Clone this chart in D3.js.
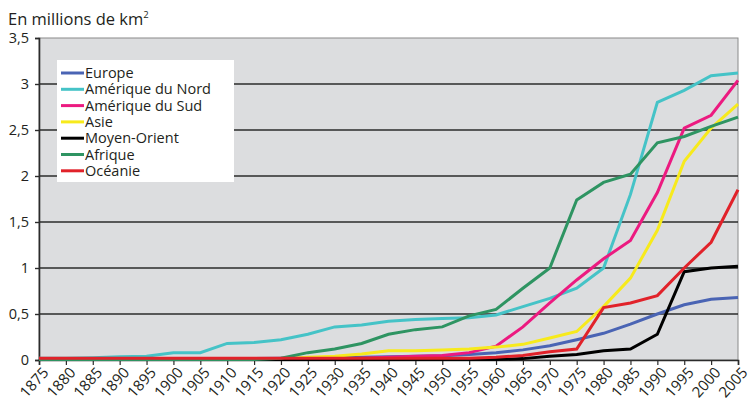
<!DOCTYPE html>
<html>
<head>
<meta charset="utf-8">
<script src="https://cdn.jsdelivr.net/npm/d3@7"></script>
<style>
  body { margin: 0; background: #fff; }
  text { font-family: "Open Sans", "DejaVu Sans", sans-serif; fill: #231f20; }
</style>
</head>
<body>
<script>
// years on x axis
var years = [1875, 1880, 1885, 1890, 1895, 1900, 1905, 1910, 1915, 1920, 1925, 1930, 1935,
             1940, 1945, 1950, 1955, 1960, 1965, 1970, 1975, 1980, 1985, 1990, 1995, 2000, 2005];

var seriesNames = ["Europe", "Amérique du Nord", "Amérique du Sud", "Asie", "Moyen-Orient", "Afrique", "Océanie"];
var seriesColors = ["#4a64b4", "#45c3c7", "#ec1a80", "#f7ea1c", "#000000", "#2e9462", "#e1222a"];

// values in millions of km2
var europe = [0.01, 0.01, 0.01, 0.01, 0.01, 0.01, 0.01, 0.015, 0.015, 0.02, 0.02, 0.025, 0.03,
              0.035, 0.04, 0.045, 0.06, 0.08, 0.11, 0.155, 0.22, 0.29, 0.39, 0.5, 0.6, 0.66, 0.68];
var ameriqueNord = [0.02, 0.02, 0.025, 0.035, 0.04, 0.08, 0.08, 0.18, 0.19, 0.22, 0.28, 0.36, 0.38,
                    0.42, 0.44, 0.45, 0.46, 0.49, 0.58, 0.67, 0.78, 1.0, 1.8, 2.8, 2.93, 3.09, 3.12];
var ameriqueSud = [0.01, 0.01, 0.01, 0.01, 0.01, 0.01, 0.01, 0.01, 0.01, 0.01, 0.01, 0.01, 0.02,
                   0.03, 0.04, 0.05, 0.08, 0.15, 0.36, 0.62, 0.87, 1.1, 1.3, 1.82, 2.52, 2.66, 3.04];
var asie = [0.01, 0.01, 0.01, 0.01, 0.01, 0.01, 0.01, 0.01, 0.01, 0.01, 0.03, 0.04, 0.065,
            0.1, 0.1, 0.11, 0.12, 0.14, 0.17, 0.24, 0.31, 0.58, 0.89, 1.41, 2.16, 2.52, 2.78];
var moyenOrient = [0.005, 0.005, 0.005, 0.005, 0.005, 0.005, 0.005, 0.005, 0.005, 0.005, 0.005, 0.005, 0.005,
                   0.005, 0.005, 0.005, 0.005, 0.005, 0.015, 0.04, 0.06, 0.1, 0.12, 0.28, 0.96, 1.0, 1.02];
var afrique = [0.005, 0.005, 0.005, 0.005, 0.005, 0.005, 0.005, 0.005, 0.005, 0.02, 0.08, 0.12, 0.18,
               0.28, 0.33, 0.36, 0.48, 0.55, 0.78, 1.0, 1.74, 1.93, 2.02, 2.36, 2.43, 2.54, 2.64];
var oceanie = [0.02, 0.02, 0.02, 0.02, 0.02, 0.02, 0.02, 0.02, 0.02, 0.02, 0.02, 0.02, 0.02,
               0.02, 0.02, 0.02, 0.02, 0.03, 0.05, 0.09, 0.12, 0.57, 0.62, 0.70, 1.0, 1.28, 1.85];

var yTicks = [0, 0.5, 1, 1.5, 2, 2.5, 3, 3.5];

var allSeries = [europe, ameriqueNord, ameriqueSud, asie, moyenOrient, afrique, oceanie];

var width = 749, height = 400;
var margin = {top: 38, right: 11, bottom: 40, left: 39};
var innerWidth = width - margin.left - margin.right,
    innerHeight = height - margin.top - margin.bottom;

var svg = d3.select("body").append("svg")
    .attr("width", width)
    .attr("height", height);

// unit title
var title = svg.append("text")
    .attr("x", 8)
    .attr("y", 25)
    .attr("font-size", 16.5);
title.append("tspan").text("En millions de km");
title.append("tspan").text("2").attr("font-size", 9.5).attr("dy", -7);

var plot = svg.append("g")
    .attr("transform", "translate(" + margin.left + "," + margin.top + ")");

var xScale = d3.scaleLinear().domain([1875, 2005]).range([0, innerWidth]);
var yScale = d3.scaleLinear().domain([0, 3.5]).range([innerHeight, 0]);

// background
plot.append("rect")
    .attr("width", innerWidth)
    .attr("height", innerHeight)
    .attr("fill", "#dcdddf")
    .attr("stroke", "#8a8a8a")
    .attr("stroke-width", 1);

// gridlines
plot.append("g")
    .selectAll("line")
    .data(yTicks.filter(function(d) { return d > 0 && d < 3.5; }))
    .join("line")
    .attr("x1", 0)
    .attr("x2", innerWidth)
    .attr("y1", function(d) { return yScale(d); })
    .attr("y2", function(d) { return yScale(d); })
    .attr("stroke", "#2b2b2b")
    .attr("stroke-width", 1.4);

var fr = d3.formatLocale({decimal: ",", thousands: " ", grouping: [3], currency: ["", " €"]});

// y axis
var yAxis = d3.axisLeft(yScale).tickValues(yTicks).tickSize(4).tickPadding(6).tickFormat(fr.format("~g"));
var yg = plot.append("g").call(yAxis);
yg.select(".domain").attr("stroke", "#2b2b2b").attr("stroke-width", 1.6);
yg.selectAll(".tick line").attr("stroke", "#2b2b2b").attr("stroke-width", 1.4);
yg.selectAll(".tick text").attr("font-size", 14.5).attr("font-family", "Open Sans, sans-serif").attr("fill", "#231f20");

// x axis
var xAxis = d3.axisBottom(xScale).tickValues(years).tickSize(5).tickFormat(d3.format("d"));
var xg = plot.append("g")
    .attr("transform", "translate(0," + innerHeight + ")")
    .call(xAxis);
xg.select(".domain").attr("stroke", "#2b2b2b").attr("stroke-width", 1.6);
xg.selectAll(".tick line").attr("stroke", "#2b2b2b").attr("stroke-width", 1.2);
xg.selectAll(".tick text")
    .attr("font-size", 15)
    .attr("font-family", "Open Sans, sans-serif")
    .attr("fill", "#231f20")
    .attr("text-anchor", "end")
    .attr("x", 0)
    .attr("y", 0)
    .attr("dy", 0)
    .attr("transform", "translate(10,13) rotate(-48)");

// lines
var line = d3.line()
    .x(function(d, i) { return xScale(years[i]); })
    .y(function(d) { return yScale(d); });

var lines = plot.append("g");
allSeries.forEach(function(values, i) {
    lines.append("path")
        .datum(values)
        .attr("fill", "none")
        .attr("stroke", seriesColors[i])
        .attr("stroke-width", 3)
        .attr("stroke-linejoin", "miter")
        .attr("d", line);
});

// legend
var legend = svg.append("g").attr("transform", "translate(57,60)");
legend.append("rect")
    .attr("width", 177)
    .attr("height", 122)
    .attr("fill", "#ffffff");
seriesNames.forEach(function(name, i) {
    var y = 13 + i * 16.3;
    legend.append("line")
        .attr("x1", 4).attr("x2", 27)
        .attr("y1", y).attr("y2", y)
        .attr("stroke", seriesColors[i])
        .attr("stroke-width", 3);
    legend.append("text")
        .attr("x", 28)
        .attr("y", y + 5)
        .attr("font-size", 14.5)
        .text(name);
});
</script>
</body>
</html>
